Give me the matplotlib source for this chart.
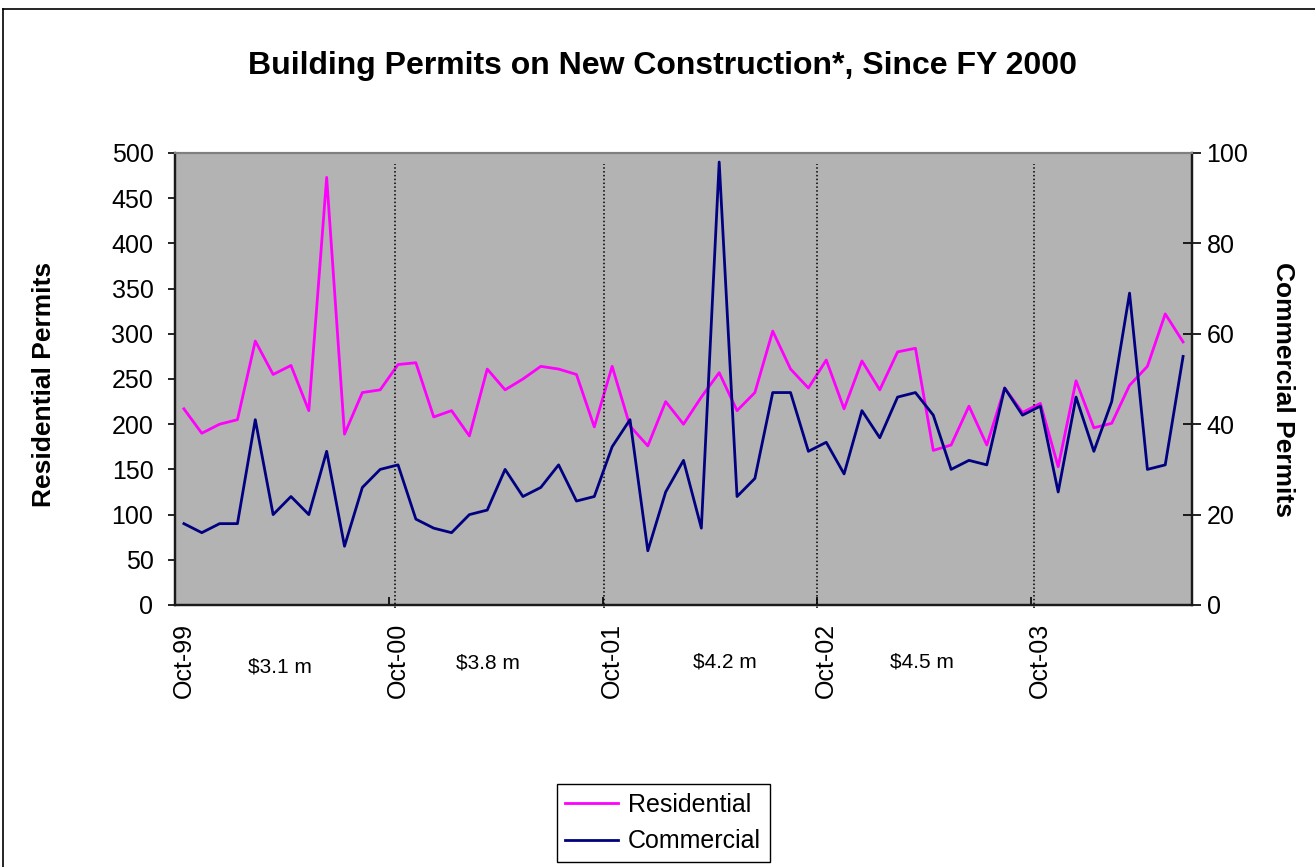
import numpy as np
import pandas as pd
import matplotlib
matplotlib.use("Agg")
import matplotlib.pyplot as plt
from matplotlib.lines import Line2D

plt.rcParams['font.family'] = ['Liberation Sans', 'DejaVu Sans']

# monthly data, Oct-99 .. Jun-04
months = pd.date_range('1999-10-01', periods=57, freq='MS').strftime('%b-%y').tolist()

residential = [217, 190, 200, 205, 292, 255, 265, 215, 473, 189, 235, 238,
               266, 268, 208, 215, 187, 261, 238, 250, 264, 261, 255, 197,
               264, 198, 176, 225, 200, 230, 257, 215, 235, 303, 261, 240,
               271, 217, 270, 238, 280, 284, 171, 177, 220, 177, 240, 213,
               223, 153, 248, 196, 201, 243, 264, 322, 291]

commercial = [18, 16, 18, 18, 41, 20, 24, 20, 34, 13, 26, 30,
              31, 19, 17, 16, 20, 21, 30, 24, 26, 31, 23, 24,
              35, 41, 12, 25, 32, 17, 98, 24, 28, 47, 47, 34,
              36, 29, 43, 37, 46, 47, 42, 30, 32, 31, 48, 42,
              44, 25, 46, 34, 45, 69, 30, 31, 55]

fy_labels = ['$3.1 m', '$3.8 m', '$4.2 m', '$4.5 m']

W, H = 1315, 867
fig = plt.figure(figsize=(W / 100, H / 100), dpi=100)
fig.patch.set_facecolor('white')

# outer chart border (left + top edges visible)
fig.add_artist(Line2D([3 / W, 3 / W], [0, 1 - 9 / H], color='black', lw=1.2))
fig.add_artist(Line2D([3 / W, 1], [1 - 9 / H, 1 - 9 / H], color='black', lw=1.2))

left, right, top, bottom = 175, 1192, 153, 605
ax = fig.add_axes([left / W, 1 - bottom / H, (right - left) / W, (bottom - top) / H])
ax.set_facecolor('#b3b3b3')

x = np.arange(len(months))
l1, = ax.plot(x, residential, color='#ff00ff', lw=2.0, label='Residential')
ax.set_xlim(-0.5, len(months) - 0.5)
ax.set_ylim(0, 500)
ax.set_yticks(np.arange(0, 501, 50))

ax2 = ax.twinx()
l2, = ax2.plot(x, commercial, color='#000080', lw=2.0, label='Commercial')
ax2.set_ylim(0, 100)
ax2.set_yticks(np.arange(0, 101, 20))

# x labels on the October of each year, tick marks on the year boundaries
ax.set_xticks(x[::12])
ax.set_xticklabels(months[::12], rotation=90)
ax.set_xticks(np.arange(-0.5, len(months), 12)[1:], minor=True)
ax.tick_params(axis='x', which='major', length=0, pad=13, labelsize=18)
ax.tick_params(axis='x', which='minor', direction='in', length=6, width=1.2)
ax.tick_params(axis='y', direction='out', length=5, width=1.2, labelsize=18, pad=10.5)
ax2.tick_params(axis='y', direction='inout', length=13, width=1.2, labelsize=18, pad=4)

for a in (ax, ax2):
    a.spines['top'].set_color('#808080')
    a.spines['top'].set_linewidth(1.5)
    for s in ('left', 'bottom', 'right'):
        a.spines[s].set_color('#1a1a1a')
        a.spines[s].set_linewidth(1.6)

# dotted fiscal year separators
for xp in [11.85, 23.55, 35.5, 47.65]:
    ax.vlines(xp, -3.3, 488, colors='black', linestyles=(0, (1, 1.5)), lw=1.1, clip_on=False)

# annual totals under each fiscal year
for lab, xp, yp in zip(fy_labels, [280, 488, 725, 922], [667, 663, 662, 662]):
    fig.text(xp / W, 1 - yp / H, lab, fontsize=15, ha='center', va='center')

fig.text(663 / W, 1 - 66 / H, 'Building Permits on New Construction*, Since FY 2000',
         fontsize=23, fontweight='bold', ha='center', va='center')
fig.text(44 / W, 1 - 384 / H, 'Residential Permits', fontsize=19, fontweight='bold',
         rotation=90, ha='center', va='center')
fig.text(1283 / W, 1 - 390 / H, 'Commercial Permits', fontsize=19, fontweight='bold',
         rotation=-90, ha='center', va='center')

leg = fig.legend([l1, l2], ['Residential', 'Commercial'], loc='center',
                 bbox_to_anchor=(663 / W, 1 - 823 / H), fontsize=18, frameon=True,
                 fancybox=False, edgecolor='black', framealpha=1, borderpad=0.35,
                 labelspacing=0.5, handlelength=2.1, handletextpad=0.4)
leg.get_frame().set_linewidth(1.0)

fig.savefig('out.png', dpi=100)
